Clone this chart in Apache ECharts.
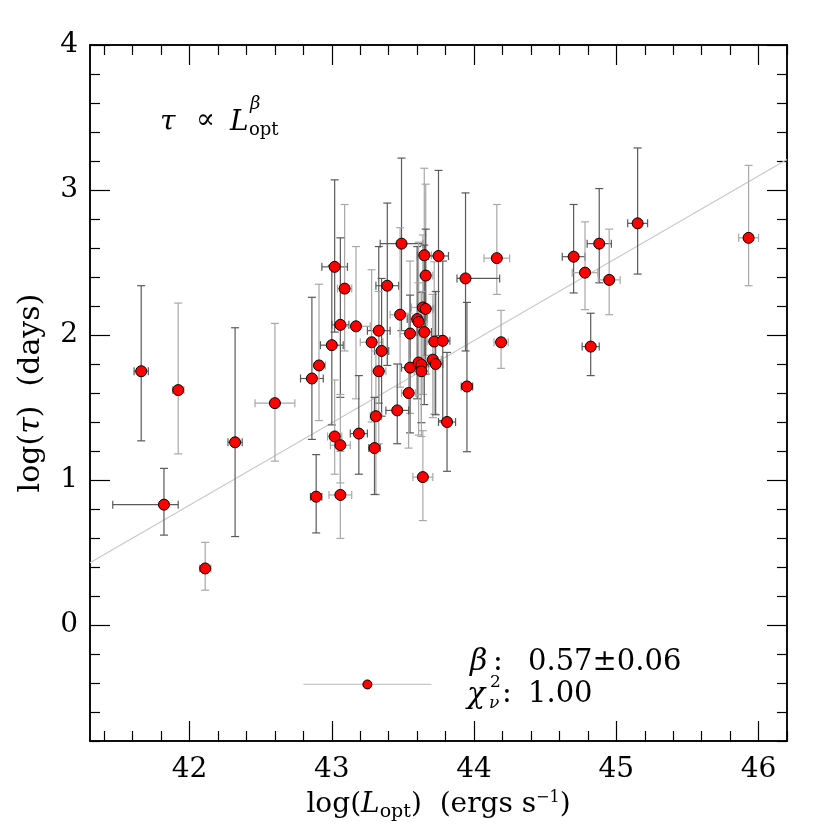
<!DOCTYPE html>
<html>
<head>
<meta charset="utf-8">
<script src="https://cdn.jsdelivr.net/npm/echarts@6/dist/echarts.min.js"></script>
<style>
  html, body { margin: 0; padding: 0; background: #fff; }
  #chart { width: 830px; height: 830px; }
</style>
</head>
<body>
<div id="chart"></div>
<script>
// log(L_opt) of each source and its errors (low / high side)
const lum = [41.66, 41.92, 41.82, 42.11, 42.32, 42.60, 42.86, 42.91,
  43.02, 43.09, 43.49, 43.65, 43.75, 44.16, 43.39, 43.66, 43.94,
  43.64, 43.66, 43.48, 43.60, 43.61,
  43.06, 43.17, 43.33, 43.55, 43.65, 43.28, 43.00, 43.72, 43.78, 44.19, 43.35,
  43.33, 43.55, 43.61, 43.63, 43.71, 43.73, 43.63, 43.95,
  43.54, 43.46, 43.31, 43.81, 43.02, 43.19, 43.06, 43.30, 43.64, 42.89, 43.06,
  44.70, 44.78, 44.88, 44.95, 45.15, 45.93, 44.82];
const lumLo = [0.05, 0.04, 0.36, 0.04, 0.05, 0.14, 0.08, 0.045,
  0.09, 0.05, 0.15, 0.05, 0.07, 0.09, 0.08, 0.05, 0.06,
  0.08, 0.05, 0.07, 0.07, 0.06,
  0.06, 0.10, 0.08, 0.07, 0.05, 0.08, 0.08, 0.05, 0.05, 0.05, 0.05,
  0.05, 0.06, 0.06, 0.05, 0.06, 0.05, 0.05, 0.04,
  0.05, 0.08, 0.04, 0.06, 0.05, 0.06, 0.07, 0.04, 0.07, 0.04, 0.08,
  0.08, 0.09, 0.085, 0.077, 0.07, 0.07, 0.06];
const lumHi = [0.05, 0.04, 0.10, 0.04, 0.05, 0.14, 0.08, 0.045,
  0.09, 0.05, 0.15, 0.05, 0.07, 0.09, 0.08, 0.05, 0.24,
  0.08, 0.05, 0.07, 0.07, 0.06,
  0.06, 0.10, 0.08, 0.07, 0.05, 0.08, 0.08, 0.05, 0.05, 0.05, 0.05,
  0.05, 0.06, 0.06, 0.05, 0.06, 0.05, 0.05, 0.04,
  0.05, 0.08, 0.04, 0.06, 0.05, 0.06, 0.07, 0.04, 0.07, 0.04, 0.08,
  0.08, 0.09, 0.085, 0.077, 0.07, 0.07, 0.06];

// log(tau) in days and its errors
const tau = [1.75, 1.62, 0.83, 0.39, 1.26, 1.53, 1.70, 1.79,
  2.47, 2.32, 2.63, 2.55, 2.545, 2.53, 2.34, 2.41, 2.39,
  2.19, 2.18, 2.14, 2.11, 2.09,
  2.07, 2.06, 2.03, 2.01, 2.02, 1.95, 1.93, 1.955, 1.96, 1.95, 1.89,
  1.75, 1.775, 1.81, 1.795, 1.83, 1.80, 1.75, 1.645,
  1.60, 1.48, 1.44, 1.40, 1.30, 1.32, 1.24, 1.22, 1.02, 0.885, 0.897,
  2.54, 2.43, 2.63, 2.38, 2.77, 2.67, 1.92];
const tauLo = [0.48, 0.44, 0.21, 0.15, 0.65, 0.40, 0.42, 0.38,
  0.45, 0.43, 0.60, 0.55, 0.55, 0.25, 0.55, 0.55, 0.50,
  0.60, 0.45, 0.50, 0.55, 0.50,
  0.50, 0.50, 0.50, 0.55, 0.50, 0.55, 0.55, 0.50, 0.55, 0.18, 0.45,
  0.50, 0.45, 0.50, 0.40, 0.40, 0.35, 0.45, 0.45,
  0.38, 0.23, 0.54, 0.34, 0.26, 0.28, 0.26, 0.32, 0.30, 0.25, 0.30,
  0.25, 0.255, 0.27, 0.24, 0.35, 0.33, 0.20];
const tauHi = [0.59, 0.60, 0.25, 0.18, 0.79, 0.55, 0.56, 0.56,
  0.60, 0.58, 0.59, 0.60, 0.59, 0.37, 0.57, 0.63, 0.59,
  0.50, 0.55, 0.60, 0.50, 0.55,
  0.60, 0.55, 0.58, 0.50, 0.60, 0.50, 0.55, 0.55, 0.55, 0.22, 0.50,
  0.55, 0.50, 0.55, 0.50, 0.45, 0.50, 0.55, 0.58,
  0.55, 0.32, 0.45, 0.48, 0.39, 0.40, 0.35, 0.35, 0.32, 0.29, 0.30,
  0.36, 0.35, 0.38, 0.35, 0.52, 0.50, 0.23];

// best fit line end points
const fitLum = [41.3, 46.2];
const fitTau = [0.43, 3.21];

// the sample point drawn next to the fit numbers
const sampleLum = [43.25];
const sampleTau = [-0.41];
const sampleSpan = [42.80, 43.70];

// axis ticks
const xTicks = [42, 43, 44, 45, 46];
const yTicks = [0, 1, 2, 3, 4];
const xRange = [41.3, 46.2];
const yRange = [-0.8, 4];

const FONT = "DejaVu Serif";

function minorTicks(lo, hi, step) {
  const out = [];
  const start = Math.ceil(lo / step - 1e-6);
  for (let k = start; k * step <= hi + 1e-6; k++) {
    const v = +(k * step).toFixed(4);
    if (Math.abs(v - Math.round(v)) > 1e-6) out.push(v);
  }
  return out;
}
const xMinor = minorTicks(xRange[0], xRange[1], 0.2);
const yMinor = minorTicks(yRange[0], yRange[1], 0.2);

const tickStyle = { color: "#000", width: 1.2 };
const frameStyle = { color: "#000", width: 1.5 };

function xAxisDef(pos, ticks, len, labels) {
  return {
    type: "value", position: pos, min: xRange[0], max: xRange[1],
    axisLine: { show: true, onZero: false, lineStyle: frameStyle },
    axisTick: { show: true, inside: true, length: len, customValues: ticks, lineStyle: tickStyle },
    axisLabel: labels
      ? { show: true, customValues: xTicks, margin: 15, color: "#000", fontFamily: FONT, fontSize: 28 }
      : { show: false },
    splitLine: { show: false },
  };
}
function yAxisDef(pos, ticks, len, labels) {
  return {
    type: "value", position: pos, min: yRange[0], max: yRange[1],
    axisLine: { show: true, onZero: false, lineStyle: frameStyle },
    axisTick: { show: true, inside: true, length: len, customValues: ticks, lineStyle: tickStyle },
    axisLabel: labels
      ? { show: true, customValues: yTicks, margin: 12, color: "#000", fontFamily: FONT, fontSize: 28 }
      : { show: false },
    splitLine: { show: false },
  };
}

const chart = echarts.init(document.getElementById("chart"), null, { renderer: "canvas" });

const xMain = xAxisDef("bottom", xTicks, 20, true);
xMain.name = "{a|log(}{i|L}{s|opt}{a|)  (ergs s}{p|−1}{a|)}";
xMain.nameLocation = "middle";
xMain.nameGap = 47;
xMain.nameTextStyle = {
  rich: {
    a: { fontFamily: FONT, fontSize: 28, color: "#000" },
    i: { fontFamily: FONT, fontSize: 28, fontStyle: "italic", color: "#000" },
    s: { fontFamily: FONT, fontSize: 19, color: "#000", padding: [15, 0, 0, 0] },
    p: { fontFamily: FONT, fontSize: 16, color: "#000", padding: [0, 0, 15, 0] },
  },
};

const yMain = yAxisDef("left", yTicks, 20, true);
yMain.name = "{a|log(}{i|τ}{a|)  (days)}";
yMain.nameLocation = "middle";
yMain.nameRotate = 90;
yMain.nameGap = 44;
yMain.nameTextStyle = {
  rich: {
    a: { fontFamily: FONT, fontSize: 30, color: "#000" },
    i: { fontFamily: FONT, fontSize: 30, fontStyle: "italic", color: "#000" },
  },
};

const errData = lum.map((x, i) => [x, tau[i], lumLo[i], lumHi[i], tauLo[i], tauHi[i]]);

function renderErr(params, api) {
  const x = api.value(0), y = api.value(1);
  const c = api.coord([x, y]);
  const top = api.coord([x, y + api.value(5)]);
  const bot = api.coord([x, y - api.value(4)]);
  const lft = api.coord([x - api.value(2), y]);
  const rgt = api.coord([x + api.value(3), y]);
  const cap = 4;
  const style = { stroke: params.dataIndex % 2 ? "#a8a8a8" : "#5a5a5a", lineWidth: 1.2 };
  const seg = (x1, y1, x2, y2) => ({ type: "line", shape: { x1, y1, x2, y2 }, style });
  return {
    type: "group",
    children: [
      seg(c[0], top[1], c[0], bot[1]),
      seg(c[0] - cap, top[1], c[0] + cap, top[1]),
      seg(c[0] - cap, bot[1], c[0] + cap, bot[1]),
      seg(lft[0], c[1], rgt[0], c[1]),
      seg(lft[0], c[1] - cap, lft[0], c[1] + cap),
      seg(rgt[0], c[1] - cap, rgt[0], c[1] + cap),
    ],
  };
}

const txt = (left, top, text, size, italic) => ({
  type: "text", left, top, silent: true,
  style: { text, fontFamily: FONT, fontSize: size, fontStyle: italic ? "italic" : "normal", fill: "#000" },
});

const option = {
  backgroundColor: "#fff",
  animation: false,
  grid: { left: 90, right: 43, top: 45, bottom: 89, containLabel: false },
  xAxis: [
    xMain,
    xAxisDef("top", xTicks, 20, false),
    xAxisDef("top", xMinor, 10, false),    // swapped to bottom by layout
    xAxisDef("bottom", xMinor, 10, false), // swapped to top by layout
  ],
  yAxis: [
    yMain,
    yAxisDef("right", yTicks, 20, false),
    yAxisDef("right", yMinor, 10, false),
    yAxisDef("left", yMinor, 10, false),
  ],
  series: [
    {
      type: "line",
      data: fitLum.map((x, i) => [x, fitTau[i]]),
      showSymbol: false,
      lineStyle: { color: "#c8c8c8", width: 1.2 },
      silent: true,
      z: 1,
    },
    {
      type: "custom",
      data: errData,
      encode: { x: 0, y: 1 },
      renderItem: renderErr,
      silent: true,
      z: 2,
    },
    {
      type: "scatter",
      data: lum.map((x, i) => [x, tau[i]]),
      symbolSize: 11,
      itemStyle: { color: "#ff0000", borderColor: "#000", borderWidth: 1, opacity: 1 },
      silent: true,
      z: 3,
    },
    {
      type: "line",
      data: sampleSpan.map((x) => [x, sampleTau[0]]),
      showSymbol: false,
      lineStyle: { color: "#c8c8c8", width: 1.2 },
      silent: true,
      z: 2,
    },
    {
      type: "scatter",
      data: sampleLum.map((x, i) => [x, sampleTau[i]]),
      symbolSize: 9,
      itemStyle: { color: "#ff0000", borderColor: "#000", borderWidth: 1, opacity: 1 },
      silent: true,
      z: 3,
    },
  ],
  graphic: [
    txt(160, 109, "τ", 28, true),
    txt(196, 107, "∝", 28, false),
    txt(230, 109, "L", 28, true),
    txt(250, 95, "β", 18, true),
    txt(249, 121, "opt", 18, false),
    txt(470, 647, "β", 30, true),
    txt(493, 648, ":", 29, false),
    txt(528, 648, "0.57±0.06", 29, false),
    txt(467, 680, "χ", 30, true),
    txt(490, 674, "2", 17, false),
    txt(489, 695, "ν", 17, true),
    txt(502, 680, ":", 29, false),
    txt(528, 680, "1.00", 29, false),
  ],
};

chart.setOption(option);
</script>
</body>
</html>
